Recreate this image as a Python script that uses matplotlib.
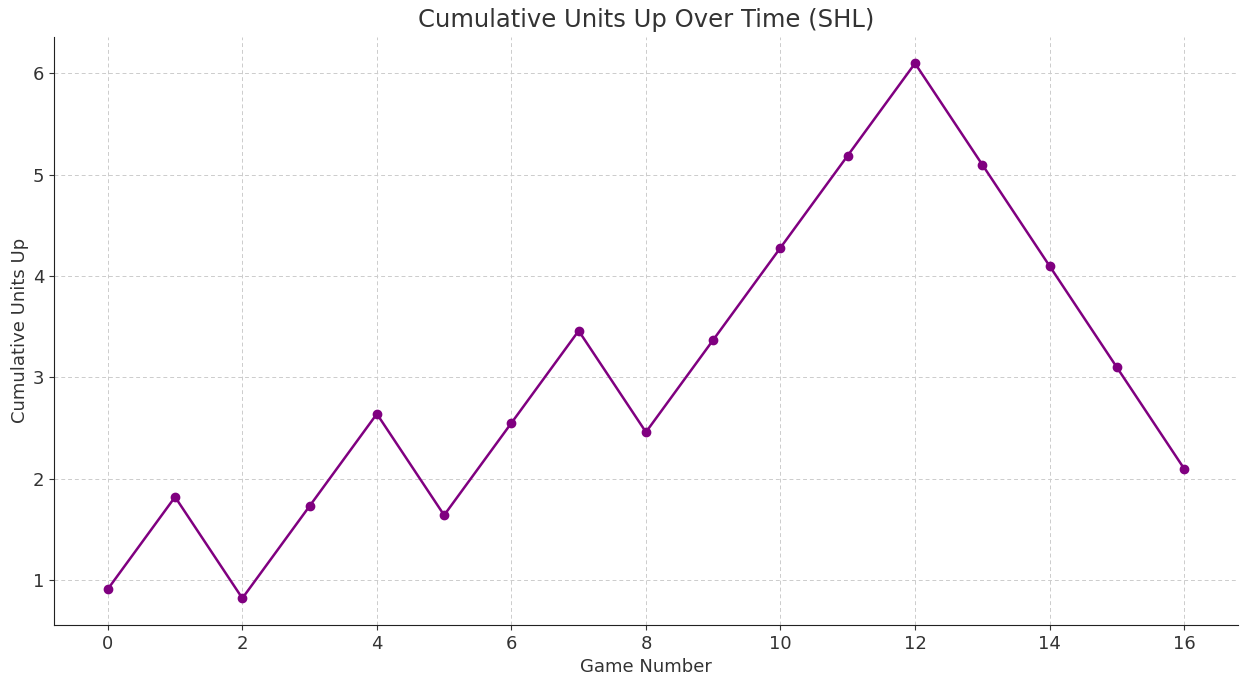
import matplotlib
matplotlib.use("Agg")
import matplotlib.pyplot as plt

games = list(range(17))
cumulative_units = [0.91, 1.82, 0.82, 1.73, 2.64, 1.64, 2.55, 3.46, 2.46, 3.37,
                    4.28, 5.19, 6.10, 5.10, 4.10, 3.10, 2.10]

fig = plt.figure(figsize=(12.41, 6.74), dpi=100)
ax = fig.add_axes([0.0435, 0.0727, 0.954, 0.873])
ax.plot(games, cumulative_units, marker='o', color='purple', linewidth=1.8, markersize=6)
ax.set_title('Cumulative Units Up Over Time (SHL)', fontsize=17.5, color='#333333', pad=7)
ax.set_xlabel('Game Number', fontsize=13, color='#333333')
ax.set_ylabel('Cumulative Units Up', fontsize=13, color='#333333', labelpad=3)
ax.grid(True, linestyle=(0, (4, 3)), color='#cccccc', linewidth=0.7)
ax.spines['top'].set_visible(False)
ax.spines['right'].set_visible(False)
for s in ('left', 'bottom'):
    ax.spines[s].set_color('#222222')
ax.tick_params(labelsize=13, colors='#333333', length=3.5)
ax.set_xticks(range(0, 17, 2))
fig.savefig('out.png', dpi=100)
